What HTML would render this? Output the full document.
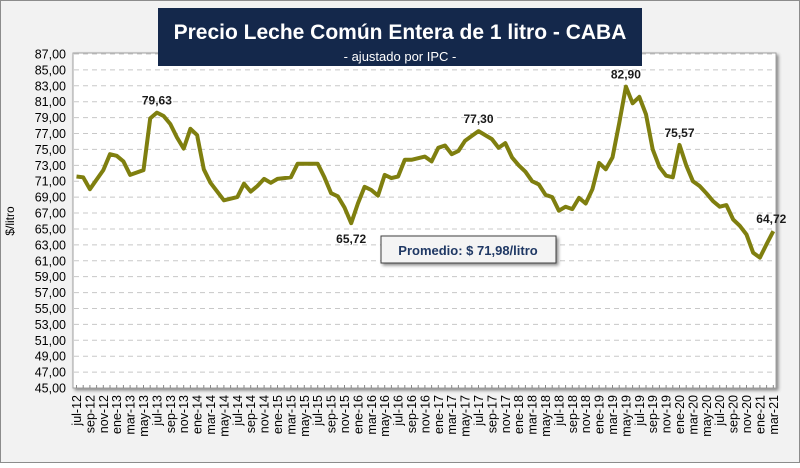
<!DOCTYPE html>
<html><head><meta charset="utf-8"><style>
body{margin:0;width:800px;height:463px;overflow:hidden;background:#fff;font-family:"Liberation Sans",sans-serif}
</style></head><body>
<svg width="800" height="463" xmlns="http://www.w3.org/2000/svg">
<defs><filter id="sh" x="-10%" y="-10%" width="130%" height="150%"><feDropShadow dx="2" dy="2" stdDeviation="1.5" flood-color="#000" flood-opacity="0.45"/></filter></defs>
<rect x="0.5" y="0.5" width="799" height="462" fill="#f2f2f2" stroke="#8c8c8c"/>
<rect x="73" y="53" width="703" height="335" fill="#fff" stroke="#a0a0a0" filter="url(#sh)"/>
<g id="grid"></g><g id="yt"></g><g id="xt"></g>
<text x="14" y="221" transform="rotate(-90 14 221)" font-size="12" text-anchor="middle" fill="#000">$/litro</text>
<path id="line" fill="none" stroke="#7f7f0f" stroke-width="4" stroke-linejoin="round"/>
<g id="lab"></g>
<rect x="158" y="8" width="484" height="58" fill="#14284b"/>
<text x="400" y="39" font-size="21" font-weight="bold" fill="#fff" text-anchor="middle">Precio Leche Común Entera de 1 litro - CABA</text>
<text x="400" y="61" font-size="13" fill="#fff" text-anchor="middle">- ajustado por IPC -</text>
<rect x="381" y="236" width="175" height="27" fill="#f4f4f4" stroke="#404040" filter="url(#sh)"/>
<text x="468" y="255" font-size="13" font-weight="bold" fill="#1f3864" text-anchor="middle">Promedio: $ 71,98/litro</text>
</svg>
<script>
const months=["jul","ago","sep","oct","nov","dic","ene","feb","mar","abr","may","jun"];
const values=[71.6,71.5,70.0,71.2,72.4,74.4,74.2,73.5,71.8,72.1,72.4,78.9,79.63,79.2,78.2,76.5,75.1,77.6,76.8,72.5,70.8,69.7,68.6,68.8,69.0,70.7,69.7,70.4,71.3,70.8,71.3,71.4,71.5,73.2,73.2,73.2,73.2,71.5,69.5,69.1,67.7,65.72,68.2,70.3,69.9,69.2,71.8,71.4,71.6,73.7,73.7,73.9,74.1,73.5,75.2,75.5,74.4,74.8,76.1,76.7,77.30,76.8,76.3,75.2,75.8,74.0,73.0,72.2,71.0,70.6,69.3,69.0,67.3,67.8,67.5,68.9,68.2,70.0,73.3,72.5,74.0,78.3,82.90,80.8,81.6,79.4,75.0,72.8,71.7,71.5,75.57,73.0,71.0,70.4,69.5,68.5,67.8,68.0,66.2,65.4,64.3,62.0,61.4,63.1,64.72];
const yTicks=[45,47,49,51,53,55,57,59,61,63,65,67,69,71,73,75,77,79,81,83,85,87];
const labelIdx=[12,41,60,82,90,104];
const NS="http://www.w3.org/2000/svg";
const X=i=>76.5+i*6.7, Y=v=>388-(v-45)*(334/42);
function mk(t,a,p){const e=document.createElementNS(NS,t);for(const k in a)e.setAttribute(k,a[k]);document.getElementById(p).appendChild(e);return e;}
yTicks.forEach(v=>{
  if(v>45){const g=mk("line",{x1:74,x2:775,y1:Y(v),y2:Y(v),stroke:"#c8c8c8","stroke-dasharray":"5,4"},"grid");
  
  }
  const t=mk("text",{x:66,y:Y(v)+4.5,"font-size":12.5,"text-anchor":"end",fill:"#000"},"yt");t.textContent=v.toFixed(2).replace(".",",");
  
  
});
values.forEach((v,i)=>{
  mk("line",{x1:X(i),x2:X(i),y1:385,y2:388,stroke:"#888"},"xt");
  if(i%2==0){const m=months[i%12],yr=12+Math.floor((i+6)/12);
    const t=mk("text",{x:0,y:0,"font-size":12.5,"text-anchor":"end",fill:"#000",transform:`translate(${X(i)+4.5},395) rotate(-90)`},"xt");
    t.textContent=m+"-"+yr;
    
    }
});
document.getElementById("line").setAttribute("d",values.map((v,i)=>(i?"L":"M")+X(i).toFixed(1)+","+Y(v).toFixed(1)).join(""));
labelIdx.forEach(i=>{
  const v=values[i],low=i==41;
  const t=mk("text",{x:X(i)+(i==104?-2:0),y:low?Y(v)+20:Y(v)-8,"font-size":12,"font-weight":"bold","text-anchor":"middle",fill:"#1a1a1a"},"lab");
  t.textContent=v.toFixed(2).replace(".",",");
  
  
});
</script>
</body></html>
